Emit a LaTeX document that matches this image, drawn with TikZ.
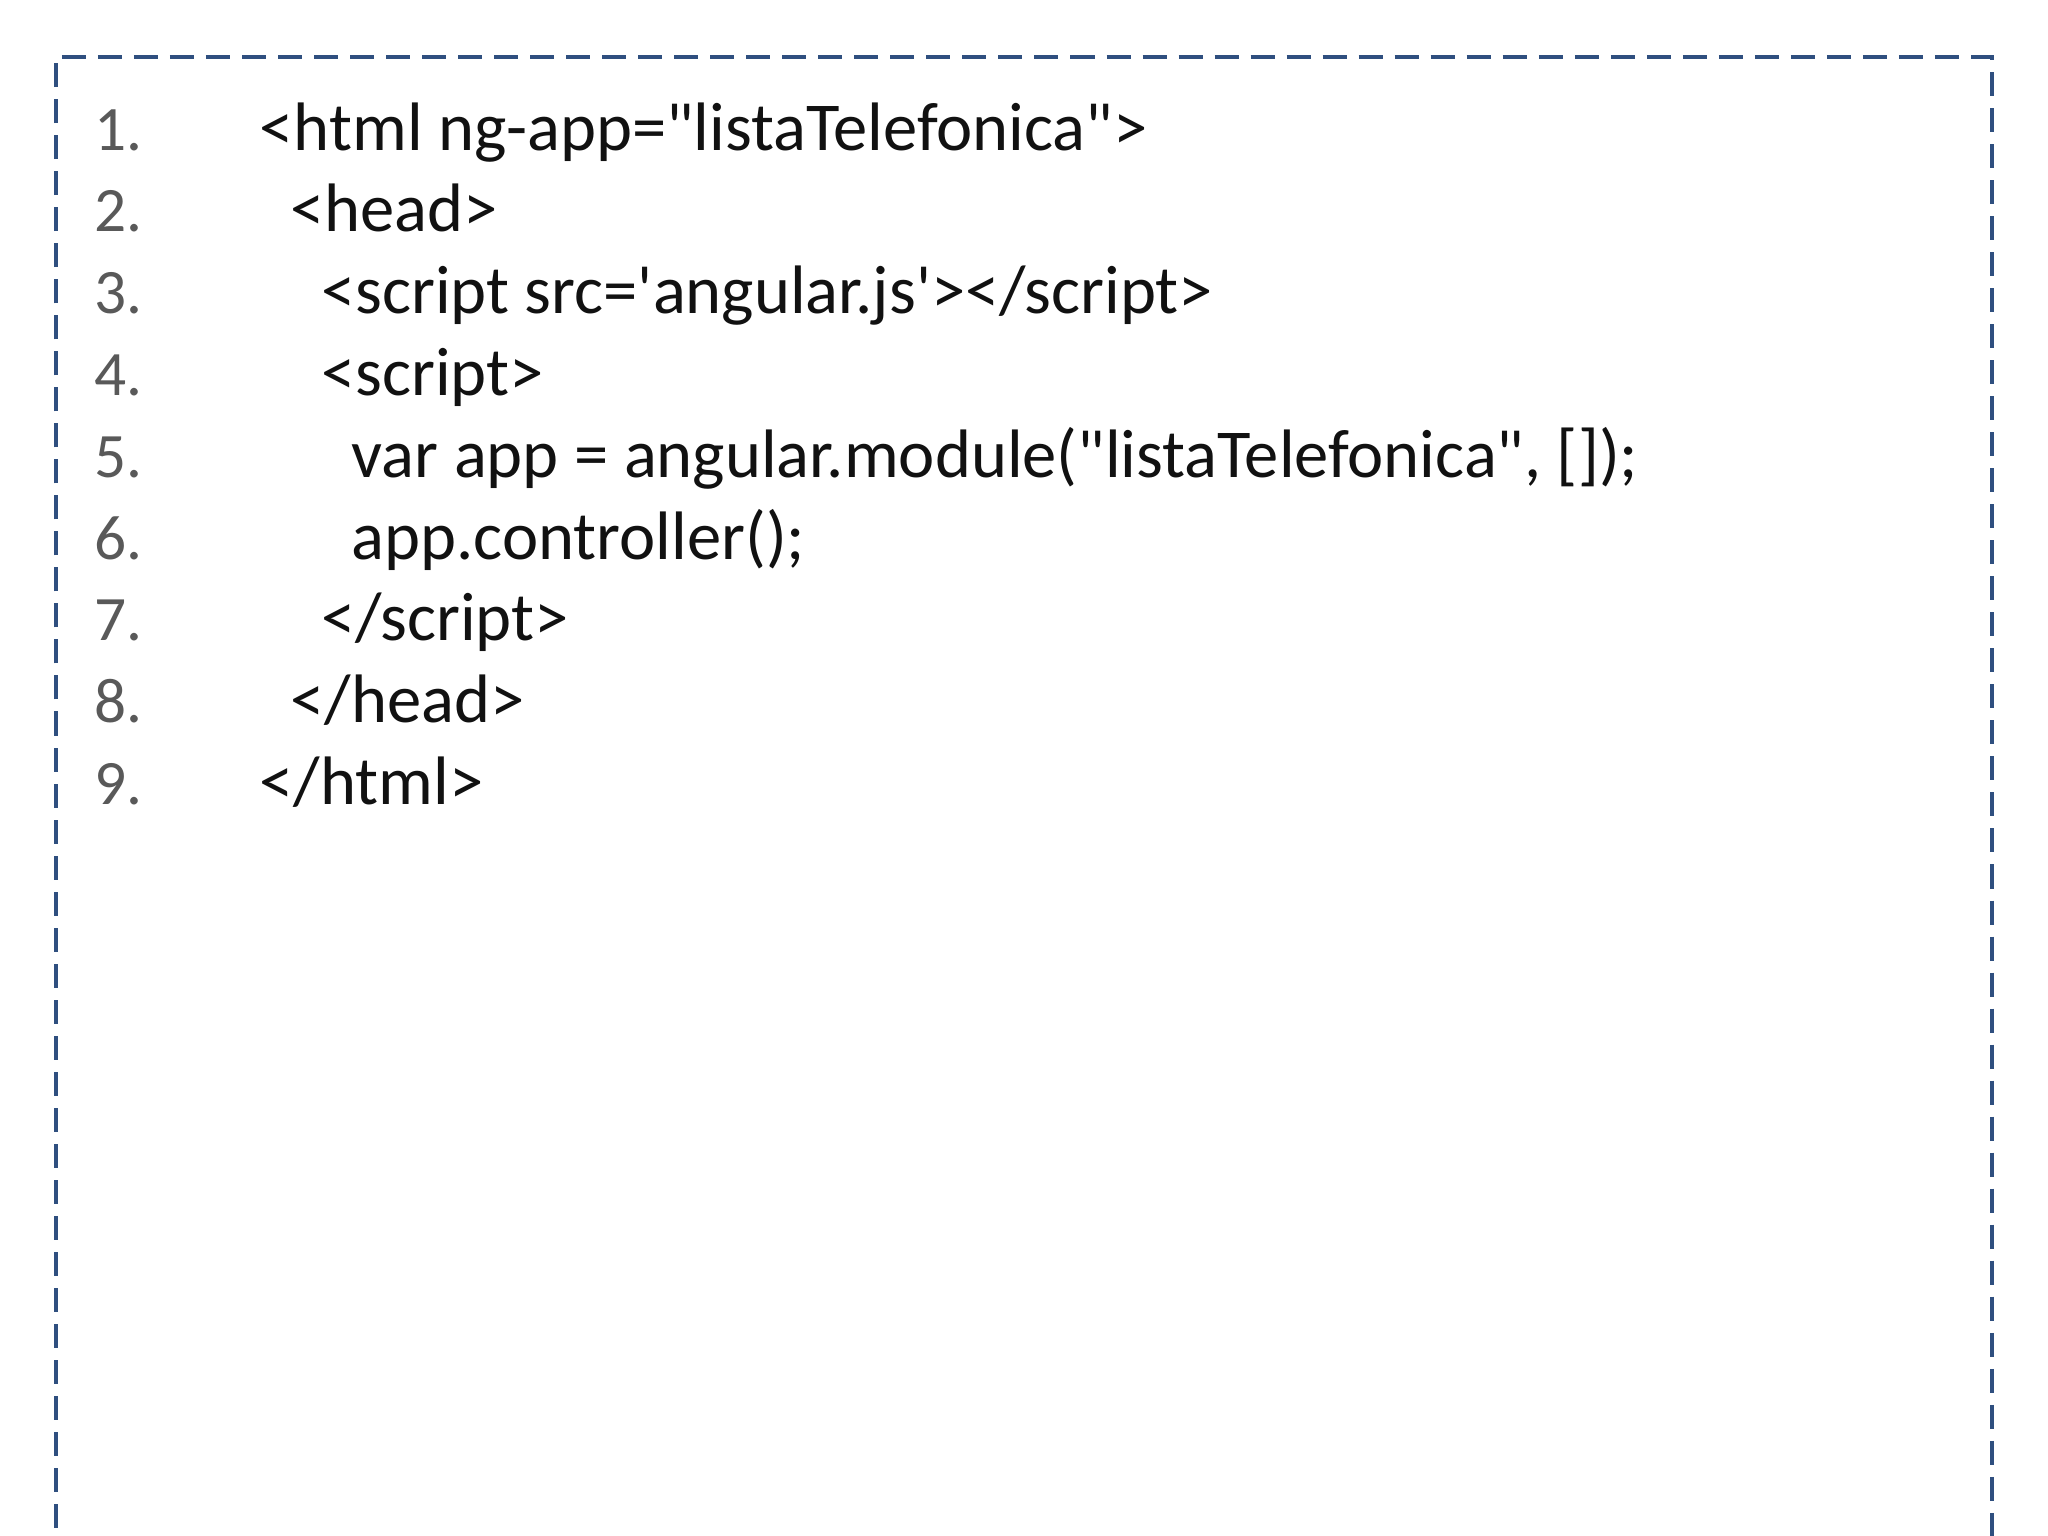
\documentclass[tikz,border=0pt]{standalone}
\usepackage{fontspec}
\setmainfont{Carlito}[Ligatures=TeXOff]
\newcommand{\dq}{"}
\newcommand{\sq}{'}
\definecolor{frame}{HTML}{2F4F7F}
\definecolor{numc}{HTML}{595959}
\definecolor{codec}{HTML}{111111}
\begin{document}
\begin{tikzpicture}[x=0.01cm,y=-0.01cm,
  num/.style={anchor=base west,inner sep=0,text=numc,font=\fontsize{18pt}{20pt}\selectfont},
  code/.style={anchor=base west,inner sep=0,text=codec,font=\fontsize{19.5pt}{22pt}\selectfont}]
\useasboundingbox[fill=white] (0,0) rectangle (2048,1536);
\draw[frame,line width=1.4pt,dash pattern=on 0.24cm off 0.12cm] (56,1600) -- (56,57) -- (1992,57) -- (1992,1600);
\foreach \i/\ind/\t in {1/0/{<html ng-app=\dq listaTelefonica\dq>},2/1/{<head>},3/2/{<script src=\sq angular.js\sq></script>},4/2/{<script>},5/3/{var app = angular.module(\dq listaTelefonica\dq, []);},6/3/{app.controller();},7/2/{</script>},8/1/{</head>},9/0/{</html>}}{
  \node[num] (n\i) at (94,{150+81.8*(\i-1)}) {\i.};
  \node[code] (c\i) at ({259+30.7*\ind},{150+81.8*(\i-1)}) {\t};
}
\end{tikzpicture}
\end{document}
